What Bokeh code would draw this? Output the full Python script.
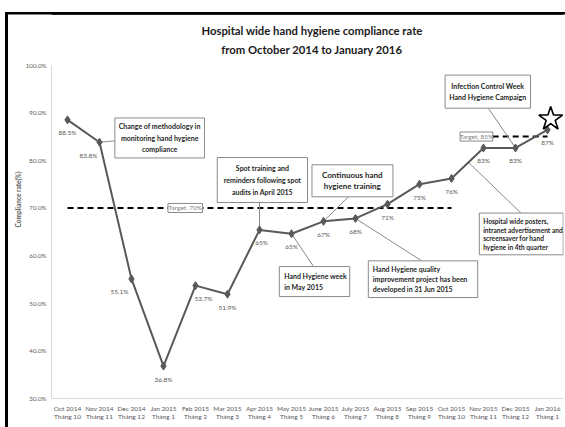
from bokeh.plotting import figure
from bokeh.models import Range1d, FixedTicker, PrintfTickFormatter, Label, BoxAnnotation
from bokeh.core.properties import value
from bokeh.embed import file_html
from bokeh.resources import INLINE

# ---------------- data ----------------
months = ["Oct 2014", "Nov 2014", "Dec 2014", "Jan 2015", "Feb 2015", "Mar 2015",
          "Apr 2015", "May 2015", "June 2015", "July 2015", "Aug 2015", "Sep 2015",
          "Oct 2015", "Nov 2015", "Dec 2015", "Jan 2016"]
thang = ["Tháng 10", "Tháng 11", "Tháng 12", "Tháng 1", "Tháng 2", "Tháng 3",
         "Tháng 4", "Tháng 5", "Tháng 6", "Tháng 7", "Tháng 8", "Tháng 9",
         "Tháng 10", "Tháng 11", "Tháng 12", "Tháng 1"]
rates = [88.5, 83.8, 55.1, 36.8, 53.7, 51.9, 65.4, 64.6, 67.2, 67.8, 70.8, 75.0,
         76.2, 82.6, 82.6, 86.4]
rate_labels = ["88.5%", "83.8%", "55.1%", "36.8%", "53.7%", "51.9%", "65%", "65%",
               "67%", "68%", "71%", "75%", "76%", "83%", "83%", "87%"]
target_first = 70
target_second = 85
y_ticks = [30, 40, 50, 60, 70, 80, 90, 100]
title_lines = ["Hospital wide hand hygiene compliance rate",
               "from October 2014 to January 2016"]

# ---------------- styles ----------------
FONT = "Lato"
GRAY = "#595959"
BOXLINE = "#8a8a8a"
TXT = "#262626"
label_dx = [0, -11, -12, 0, 8, 0, 2, 0, 0, 0, 0, 0, 0, 0, 0, 0]

xs = list(range(len(months)))

frame_rules = {
    "background-color": "#ffffff",
    "background-image": "linear-gradient(#000000, #000000), linear-gradient(#000000, #000000)",
    "background-size": "3px 100%, 100% 2.5px",
    "background-position": "4.5px 11.7px, 4.5px 11.7px",
    "background-repeat": "no-repeat",
}

p = figure(width=565, height=427, output_backend="svg", toolbar_location=None,
           title=None,
           x_range=Range1d(-0.5, 15.5), y_range=Range1d(30, 113.56),
           min_border_left=51, min_border_right=2, min_border_top=0,
           min_border_bottom=29, styles=frame_rules)
p.outline_line_color = None
p.grid.visible = False
p.background_fill_alpha = 0
p.border_fill_alpha = 0

# top rule of the outer frame (inside plot area)
p.add_layout(BoxAnnotation(left=-0.5, right=15.5, top=111.1, bottom=110.58,
                           fill_color="black", fill_alpha=1, line_color=None))

# title
for txt, yv in zip(title_lines, [107.35, 103.36]):
    p.add_layout(Label(x=7.64, y=yv, text=txt, text_align="center",
                       text_baseline="middle", text_font=FONT,
                       text_font_size="11.3px", text_font_style="bold",
                       text_color="#1a1a1a"))

# x axis
p.xaxis.ticker = FixedTicker(ticks=xs)
p.xaxis.major_label_overrides = {i: f"{m}\n{t}" for i, (m, t) in enumerate(zip(months, thang))}
p.xaxis.axis_line_color = "#d9d9d9"
p.xaxis.major_tick_line_color = None
p.xaxis.minor_tick_line_color = None
p.xaxis.major_tick_out = 0
p.xaxis.major_tick_in = 0
p.xaxis.major_label_text_font = FONT
p.xaxis.major_label_text_font_size = "6.5px"
p.xaxis.major_label_text_color = GRAY
p.xaxis.major_label_standoff = 6

# y axis
p.yaxis.ticker = FixedTicker(ticks=y_ticks)
p.yaxis.bounds = (30, 100)
p.yaxis.formatter = PrintfTickFormatter(format="%.1f%%")
p.yaxis.axis_line_color = "#d9d9d9"
p.yaxis.major_tick_line_color = None
p.yaxis.minor_tick_line_color = None
p.yaxis.major_tick_out = 0
p.yaxis.major_tick_in = 0
p.yaxis.major_label_text_font = FONT
p.yaxis.major_label_text_font_size = "6.2px"
p.yaxis.major_label_text_color = GRAY
p.yaxis.major_label_standoff = 5
p.yaxis.axis_label = "Compliance rate(%)"
p.yaxis.axis_label_text_font = FONT
p.yaxis.axis_label_text_font_size = "6.5px"
p.yaxis.axis_label_text_font_style = "bold"
p.yaxis.axis_label_text_color = GRAY
p.yaxis.axis_label_standoff = 1

# target lines
i0, i1 = months.index("Oct 2014"), months.index("Oct 2015")
p.line([i0, i1], [target_first, target_first], line_color="black", line_width=2,
       line_dash="6 4")
p.line([12.35, months.index("Jan 2016")], [target_second, target_second],
       line_color="black", line_width=2, line_dash="6 4")

# annotation layout (boxes in data units, text sizes in px)
interp = rates[12] + 0.53 * (rates[13] - rates[12])
annotations = [
    dict(box=(1.48, 4.28, 88.9, 80.5), align="center", tx=2.88, size=7, sp=11.5,
         lines=["Change of methodology in", "monitoring hand hygiene", "compliance"],
         lead=((1.48, 84.1), (1, rates[1]))),
    dict(box=(4.68, 7.50, 80.6, 71.15), align="center", tx=6.09, size=7, sp=11.8,
         lines=["Spot training and", "reminders following spot", "audits in April 2015"],
         lead=((6.0, 71.15), (6, rates[6]))),
    dict(box=(7.64, 10.17, 79.07, 72.35), align="center", tx=8.9, size=8, sp=11.3,
         lines=["Continuous hand", "hygiene training"],
         lead=((8.78, 72.35), (8, rates[8]))),
    dict(box=(6.62, 8.82, 57.7, 51.4), align="left", tx=6.77, size=7, sp=11.3,
         lines=["Hand Hygiene week", "in May 2015"],
         lead=((7.69, 57.7), (7, rates[7]))),
    dict(box=(9.40, 12.82, 58.9, 51.2), align="left", tx=9.54, size=7, sp=10,
         lines=["Hand Hygiene quality", "improvement project has been",
                "developed  in 31 Jun 2015"],
         lead=((11.07, 58.9), (9, rates[9]))),
    dict(box=(11.80, 14.47, 97.9, 90.95), align="center", tx=13.13, size=7, sp=11.4,
         lines=["Infection Control Week", "Hand Hygiene Campaign"],
         lead=((13.15, 90.95), (14, rates[14]))),
    dict(box=(12.87, 15.49, 68.93, 60.17), align="left", tx=12.99, size=6.6, sp=8.7,
         lines=["Hospital wide posters,", "intranet advertisement and",
                "screensaver  for hand", "hygiene in 4th quarter"],
         lead=((14.17, 68.93), (12.53, interp))),
]
for a in annotations:
    (x0, y0), (x1, y1) = a["lead"]
    p.segment(x0=[x0], y0=[y0], x1=[x1], y1=[y1], line_color=BOXLINE, line_width=1)

# main series
p.line(xs, rates, line_color=GRAY, line_width=2)
p.scatter(xs, rates, marker="diamond", size=8, color=GRAY)
p.text(xs, rates, text=rate_labels, x_offset=label_dx, y_offset=13,
       text_align="center", text_baseline="middle", text_font=value(FONT),
       text_font_size="6.5px", text_color=GRAY)

# annotation boxes
for a in annotations:
    l, r, t, b = a["box"]
    p.quad(left=[l], right=[r], top=[t], bottom=[b], fill_color="white",
           line_color=BOXLINE, line_width=1)
    n = len(a["lines"])
    cy = (t + b) / 2
    offs = [(k - (n - 1) / 2) * a["sp"] for k in range(n)]
    p.text(x=[a["tx"]] * n, y=[cy] * n, text=a["lines"], y_offset=offs,
           text_align=a["align"], text_baseline="middle", text_font=value(FONT),
           text_font_size=f"{a['size']}px", text_font_style="bold", text_color=TXT)

# target labels
for (l, r, yv, txt) in [(3.14, 4.22, target_first, "Target, 70%"),
                         (12.27, 13.29, target_second, "Target, 85%")]:
    p.quad(left=[l], right=[r], top=[yv + 0.95], bottom=[yv - 0.95],
           fill_color="white", line_color=BOXLINE, line_width=1)
    p.text(x=[(l + r) / 2], y=[yv], text=[txt], text_align="center",
           text_baseline="middle", text_font=value(FONT), text_font_size="6.5px",
           text_color="#7f7f7f")

# star marking the last month (placed just above-right of its point)
p.scatter(x=[xs[-1] + 0.1], y=[rates[-1] + 2.3], marker="star", size=25,
          fill_color=None, line_color="black", line_width=1.6)

open("out.html", "w").write(file_html(p, INLINE))
